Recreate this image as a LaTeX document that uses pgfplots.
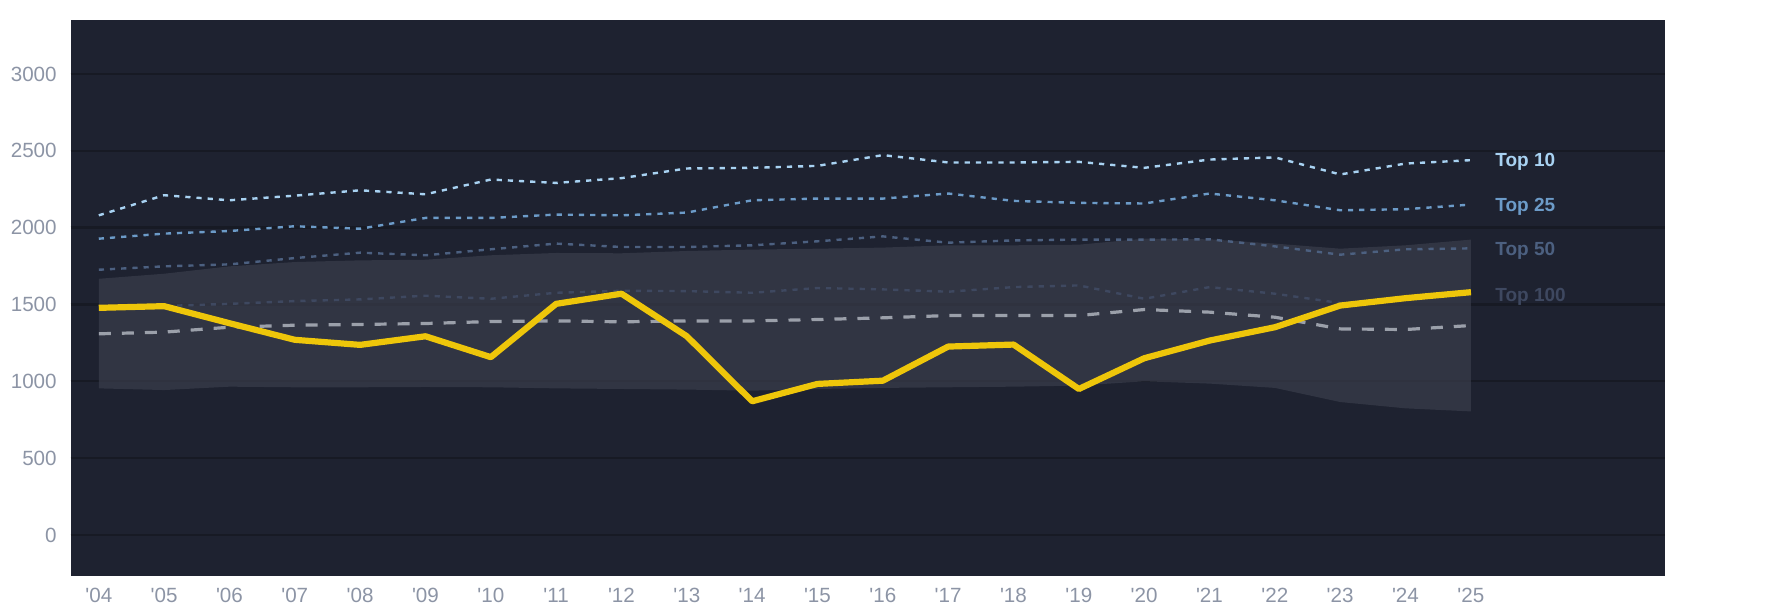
\documentclass[border=0pt]{standalone}
\usepackage{fontspec}
\setmainfont{Liberation Sans}
\usepackage{pgfplots}
\pgfplotsset{compat=1.18}
\usepackage{pgfplotstable}
\usepgfplotslibrary{fillbetween}
\definecolor{bg}{RGB}{30,34,48}
\definecolor{gridc}{RGB}{23,26,36}
\definecolor{bandc}{RGB}{63,67,81}
\definecolor{tickc}{RGB}{140,148,165}
\definecolor{tten}{RGB}{168,210,242}
\definecolor{ttf}{RGB}{108,155,200}
\definecolor{tfifty}{RGB}{76,96,128}
\definecolor{thund}{RGB}{62,72,96}
\definecolor{medc}{RGB}{155,160,170}
\definecolor{yel}{RGB}{238,198,10}
\newcommand\q{\textquotesingle}
\pgfplotstableread{
year top10 top25 top50 top100 lo hi med val
2004 2080 1928 1726 1485 954 1667 1309 1478
2005 2211 1961 1748 1490 943 1700 1320 1489
2006 2178 1978 1761 1504 965 1748 1352 1378
2007 2208 2009 1802 1522 961 1776 1365 1270
2008 2243 1993 1837 1533 961 1787 1370 1237
2009 2217 2063 1820 1557 963 1791 1376 1293
2010 2313 2063 1859 1537 961 1820 1389 1157
2011 2291 2085 1896 1576 954 1835 1393 1504
2012 2322 2080 1874 1589 950 1833 1387 1570
2013 2385 2098 1874 1587 946 1848 1393 1293
2014 2389 2178 1885 1576 939 1857 1393 870
2015 2402 2189 1911 1607 950 1863 1402 983
2016 2472 2189 1943 1598 957 1870 1413 1004
2017 2424 2222 1902 1583 961 1885 1428 1226
2018 2424 2174 1917 1613 965 1885 1428 1239
2019 2428 2161 1922 1624 972 1889 1428 950
2020 2389 2157 1922 1537 1000 1928 1467 1150
2021 2443 2222 1924 1613 985 1924 1450 1265
2022 2457 2178 1878 1570 957 1896 1417 1352
2023 2346 2113 1824 1509 865 1863 1341 1493
2024 2417 2120 1859 1540 824 1885 1337 1541
2025 2439 2150 1865 1565 804 1922 1363 1580
}\data
\begin{document}
\begin{tikzpicture}
\begin{axis}[
  at={(35.35pt,19pt)}, anchor=south west,
  scale only axis, width=797.15pt, height=277.75pt,
  xmin=2003.57, xmax=2027.97, ymin=-267, ymax=3348,
  axis background/.style={fill=bg},
  axis line style={draw=none},
  tick style={draw=none},
  ymajorgrids=true, xmajorgrids=false,
  major grid style={draw=gridc, line width=1.2pt},
  ytick={0,500,1000,1500,2000,2500,3000},
  xtick={2004,...,2025},
  xticklabels={\q04,\q05,\q06,\q07,\q08,\q09,\q10,\q11,\q12,\q13,\q14,\q15,\q16,\q17,\q18,\q19,\q20,\q21,\q22,\q23,\q24,\q25},
  /pgf/number format/assume math mode=true,
  /pgf/number format/1000 sep={},
  yticklabel style={font=\fontsize{10.3}{12}\selectfont, text=tickc, xshift=-3.5pt},
  xticklabel style={font=\fontsize{10.3}{12}\selectfont, text=tickc, yshift=-2.6pt},
  every axis plot/.append style={line join=round},
]
\addplot[name path=hi, draw=none, forget plot] table[x=year,y=hi]{\data};
\addplot[name path=lo, draw=none, forget plot] table[x=year,y=lo]{\data};
\addplot[fill=bandc, fill opacity=0.6, draw=none] fill between[of=hi and lo];
\addplot[thund, line width=1.2pt, dash pattern=on 2.6pt off 3pt] table[x=year,y=top100]{\data};
\addplot[tfifty, line width=1.2pt, dash pattern=on 2.6pt off 3pt] table[x=year,y=top50]{\data};
\addplot[ttf, line width=1.2pt, dash pattern=on 2.6pt off 3pt] table[x=year,y=top25]{\data};
\addplot[tten, line width=1.2pt, dash pattern=on 2.6pt off 3pt] table[x=year,y=top10]{\data};
\addplot[medc, line width=1.6pt, dash pattern=on 6pt off 5.5pt] table[x=year,y=med]{\data};
\addplot[yel, line width=3.1pt] table[x=year,y=val]{\data};
\node[anchor=base west, inner sep=0pt, xshift=12pt, yshift=-3.4pt, text=tten, font=\fontsize{9.5}{11}\selectfont\bfseries] at (axis cs:2025,2439) {Top 10};
\node[anchor=base west, inner sep=0pt, xshift=12pt, yshift=-3.4pt, text=ttf, font=\fontsize{9.5}{11}\selectfont\bfseries] at (axis cs:2025,2150) {Top 25};
\node[anchor=base west, inner sep=0pt, xshift=12pt, yshift=-3.4pt, text=tfifty, font=\fontsize{9.5}{11}\selectfont\bfseries] at (axis cs:2025,1865) {Top 50};
\node[anchor=base west, inner sep=0pt, xshift=12pt, yshift=-3.4pt, text=thund, font=\fontsize{9.5}{11}\selectfont\bfseries] at (axis cs:2025,1565) {Top 100};
\end{axis}
\path (0,0) rectangle (892.5pt,307pt);
\end{tikzpicture}
\end{document}
